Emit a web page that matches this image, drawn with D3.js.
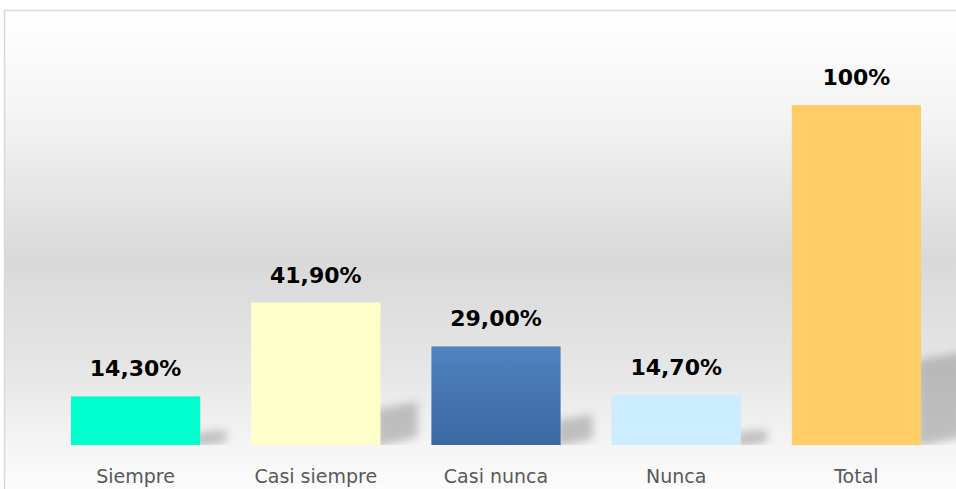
<!DOCTYPE html>
<html>
<head>
<meta charset="utf-8">
<script src="https://cdn.jsdelivr.net/npm/d3@7"></script>
<style>
  html, body { margin: 0; padding: 0; background: #ffffff; }
  svg { display: block; }
</style>
</head>
<body>
<svg id="chart" width="956" height="489"></svg>
<script>
const categories = ["Siempre", "Casi siempre", "Casi nunca", "Nunca", "Total"];
const values = [14.3, 41.9, 29.0, 14.7, 100];
const valueLabels = ["14,30%", "41,90%", "29,00%", "14,70%", "100%"];
const colors = ["#00FFCC", "#FFFFCC", "#4A7EBB", "#CCECFF", "#FFCC66"];

const W = 956, H = 489;
const svg = d3.select("#chart");
const defs = svg.append("defs");

// background gradient
const bg = defs.append("linearGradient").attr("id", "bgGrad")
  .attr("x1", 0).attr("y1", 0).attr("x2", 0).attr("y2", 1);
[["0%", "#ffffff"], ["22%", "#f3f3f3"], ["50%", "#d9d9d9"], ["72%", "#e6e6e6"], ["91%", "#f8f8f8"], ["100%", "#ffffff"]]
  .forEach(([o, c]) => bg.append("stop").attr("offset", o).attr("stop-color", c));

const blueGrad = defs.append("linearGradient").attr("id", "blueGrad")
  .attr("x1", 0).attr("y1", 0).attr("x2", 0).attr("y2", 1);
blueGrad.append("stop").attr("offset", "0%").attr("stop-color", "#5083C0");
blueGrad.append("stop").attr("offset", "100%").attr("stop-color", "#3B68A3");

const blur = defs.append("filter").attr("id", "blur")
  .attr("x", "-50%").attr("y", "-50%").attr("width", "200%").attr("height", "200%");
blur.append("feGaussianBlur").attr("stdDeviation", 4.5);

defs.append("clipPath").attr("id", "frameClip")
  .append("rect").attr("x", 5).attr("y", 11).attr("width", W - 5).attr("height", 434);

// chart frame
svg.append("rect").attr("x", 4.5).attr("y", 10.5).attr("width", W + 10).attr("height", H + 10)
  .attr("fill", "url(#bgGrad)").attr("stroke", "#d9d9d9").attr("stroke-width", 1.5);

const x = d3.scaleBand().domain(categories).range([45.5, 946.5]).paddingInner(0.283).paddingOuter(0.1415);
const y = d3.scaleLinear().domain([0, 100]).range([445, 105]);

const data = categories.map((c, i) => ({ c, v: values[i], label: valueLabels[i], color: colors[i] }));

// shadows
const shadowG = svg.append("g").attr("clip-path", "url(#frameClip)");
shadowG.selectAll("path").data(data).join("path")
  .attr("d", d => {
    const x1 = x(d.c) + x.bandwidth();
    const h = y(0) - y(d.v);
    const sh = h * 0.25;
    const dx = Math.min(42, 20 + h * 0.12);
    const dy = Math.min(8, h * 0.06);
    return `M${x1 - 4},${y(0) + 2} L${x1 - 4},${y(0) - sh} L${x1 + dx},${y(0) - sh - dy} L${x1 + dx},${y(0) - dy}  Z`;
  })
  .attr("fill", "#8c8c8c").attr("opacity", 0.5).attr("filter", "url(#blur)");

// bars
svg.append("g").selectAll("rect").data(data).join("rect")
  .attr("x", d => x(d.c))
  .attr("y", d => y(d.v))
  .attr("width", x.bandwidth())
  .attr("height", d => y(0) - y(d.v))
  .attr("fill", (d, i) => i === 2 ? "url(#blueGrad)" : d.color);

// value labels
svg.append("g").selectAll("text").data(data).join("text")
  .attr("x", d => x(d.c) + x.bandwidth() / 2)
  .attr("y", d => y(d.v) - 20)
  .attr("text-anchor", "middle")
  .attr("font-family", "DejaVu Sans, Verdana, sans-serif")
  .attr("font-weight", "bold")
  .attr("font-size", 22)
  .attr("fill", "#000000")
  .text(d => d.label);

// category axis
const axis = d3.axisBottom(x).tickSize(0).tickPadding(0);
const ax = svg.append("g").attr("transform", `translate(0, 445)`).call(axis);
ax.select(".domain").remove();
ax.selectAll("text")
  .attr("y", 38)
  .attr("dy", 0)
  .attr("font-family", "DejaVu Sans, Verdana, sans-serif")
  .attr("font-size", 19)
  .attr("fill", "#595959");
</script>
</body>
</html>
